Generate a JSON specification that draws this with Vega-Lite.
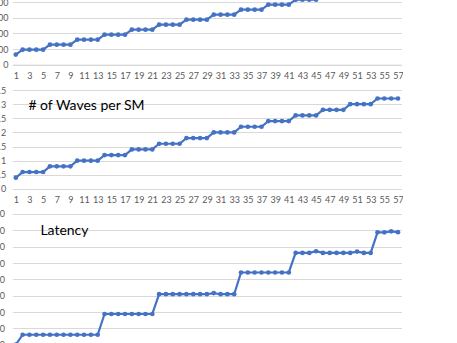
{
  "$schema": "https://vega.github.io/schema/vega-lite/v6.json",
  "padding": {"left": -8.6, "top": -33, "right": 0, "bottom": 0},
  "background": "white",
  "spacing": 5,
  "config": {
    "view": {"stroke": null},
    "font": "Lato",
    "axis": {
      "labelFont": "Lato",
      "labelFontSize": 9,
      "labelColor": "#595959",
      "ticks": false,
      "title": null,
      "gridColor": "#d9d9d9",
      "gridWidth": 1
    },
    "axisY": {"domain": false, "labelPadding": 4.5},
    "axisX": {"domainColor": "#d9d9d9", "domainWidth": 1, "grid": false, "labelPadding": 6.5, "labelBaseline": "top", "labelAngle": 0},
    "title": {"font": "Lato", "fontSize": 14, "fontWeight": "normal", "color": "#000000", "anchor": "start", "frame": "group", "orient": "top", "baseline": "alphabetic"},
    "line": {"color": "#4472c4", "strokeWidth": 2.2},
    "point": {"color": "#4472c4", "filled": true, "opacity": 1, "size": 22}
  },
  "data": {
    "values": [
      {"n": 1, "metric": 64, "waves": 0.4, "latency": 0},
      {"n": 2, "metric": 96, "waves": 0.6, "latency": 6.1},
      {"n": 3, "metric": 96, "waves": 0.6, "latency": 6.1},
      {"n": 4, "metric": 96, "waves": 0.6, "latency": 6.1},
      {"n": 5, "metric": 96, "waves": 0.6, "latency": 6.1},
      {"n": 6, "metric": 128, "waves": 0.8, "latency": 6.1},
      {"n": 7, "metric": 128, "waves": 0.8, "latency": 6.1},
      {"n": 8, "metric": 128, "waves": 0.8, "latency": 6.1},
      {"n": 9, "metric": 128, "waves": 0.8, "latency": 6.1},
      {"n": 10, "metric": 160, "waves": 1.0, "latency": 6.1},
      {"n": 11, "metric": 160, "waves": 1.0, "latency": 6.1},
      {"n": 12, "metric": 160, "waves": 1.0, "latency": 6.1},
      {"n": 13, "metric": 160, "waves": 1.0, "latency": 6.1},
      {"n": 14, "metric": 192, "waves": 1.2, "latency": 18.8},
      {"n": 15, "metric": 192, "waves": 1.2, "latency": 18.8},
      {"n": 16, "metric": 192, "waves": 1.2, "latency": 18.8},
      {"n": 17, "metric": 192, "waves": 1.2, "latency": 18.8},
      {"n": 18, "metric": 224, "waves": 1.4, "latency": 18.8},
      {"n": 19, "metric": 224, "waves": 1.4, "latency": 18.8},
      {"n": 20, "metric": 224, "waves": 1.4, "latency": 18.8},
      {"n": 21, "metric": 224, "waves": 1.4, "latency": 18.8},
      {"n": 22, "metric": 256, "waves": 1.6, "latency": 30.9},
      {"n": 23, "metric": 256, "waves": 1.6, "latency": 30.9},
      {"n": 24, "metric": 256, "waves": 1.6, "latency": 30.9},
      {"n": 25, "metric": 256, "waves": 1.6, "latency": 30.9},
      {"n": 26, "metric": 288, "waves": 1.8, "latency": 30.9},
      {"n": 27, "metric": 288, "waves": 1.8, "latency": 30.9},
      {"n": 28, "metric": 288, "waves": 1.8, "latency": 30.9},
      {"n": 29, "metric": 288, "waves": 1.8, "latency": 30.9},
      {"n": 30, "metric": 320, "waves": 2.0, "latency": 31.6},
      {"n": 31, "metric": 320, "waves": 2.0, "latency": 30.9},
      {"n": 32, "metric": 320, "waves": 2.0, "latency": 30.9},
      {"n": 33, "metric": 320, "waves": 2.0, "latency": 30.9},
      {"n": 34, "metric": 352, "waves": 2.2, "latency": 44.2},
      {"n": 35, "metric": 352, "waves": 2.2, "latency": 44.2},
      {"n": 36, "metric": 352, "waves": 2.2, "latency": 44.2},
      {"n": 37, "metric": 352, "waves": 2.2, "latency": 44.2},
      {"n": 38, "metric": 384, "waves": 2.4, "latency": 44.2},
      {"n": 39, "metric": 384, "waves": 2.4, "latency": 44.2},
      {"n": 40, "metric": 384, "waves": 2.4, "latency": 44.2},
      {"n": 41, "metric": 384, "waves": 2.4, "latency": 44.2},
      {"n": 42, "metric": 416, "waves": 2.6, "latency": 56.2},
      {"n": 43, "metric": 416, "waves": 2.6, "latency": 56.2},
      {"n": 44, "metric": 416, "waves": 2.6, "latency": 56.2},
      {"n": 45, "metric": 416, "waves": 2.6, "latency": 57.2},
      {"n": 46, "metric": 448, "waves": 2.8, "latency": 56.2},
      {"n": 47, "metric": 448, "waves": 2.8, "latency": 56.2},
      {"n": 48, "metric": 448, "waves": 2.8, "latency": 56.2},
      {"n": 49, "metric": 448, "waves": 2.8, "latency": 56.2},
      {"n": 50, "metric": 480, "waves": 3.0, "latency": 56.2},
      {"n": 51, "metric": 480, "waves": 3.0, "latency": 57.0},
      {"n": 52, "metric": 480, "waves": 3.0, "latency": 56.2},
      {"n": 53, "metric": 480, "waves": 3.0, "latency": 56.2},
      {"n": 54, "metric": 512, "waves": 3.2, "latency": 68.8},
      {"n": 55, "metric": 512, "waves": 3.2, "latency": 68.8},
      {"n": 56, "metric": 512, "waves": 3.2, "latency": 69.4},
      {"n": 57, "metric": 512, "waves": 3.2, "latency": 68.9}
    ]
  },
  "vconcat": [
    {
      "width": 389,
      "height": 93.6,
      "encoding": {
        "x": {"field": "n", "type": "quantitative", "scale": {"domain": [0.5, 57.5], "nice": false, "zero": false},
              "axis": {"values": [1,3,5,7,9,11,13,15,17,19,21,23,25,27,29,31,33,35,37,39,41,43,45,47,49,51,53,55,57]}},
        "y": {"field": "metric", "type": "quantitative", "scale": {"domain": [0, 600], "nice": false},
              "axis": {"values": [0,100,200,300,400,500,600]}}
      },
      "layer": [{"mark": "line"}, {"mark": "point"}]
    },
    {
      "width": 389,
      "height": 99,
      "title": {"text": "# of Waves per SM", "offset": -27, "dx": 16},
      "encoding": {
        "x": {"field": "n", "type": "quantitative", "scale": {"domain": [0.5, 57.5], "nice": false, "zero": false},
              "axis": {"values": [1,3,5,7,9,11,13,15,17,19,21,23,25,27,29,31,33,35,37,39,41,43,45,47,49,51,53,55,57]}},
        "y": {"field": "waves", "type": "quantitative", "scale": {"domain": [0, 3.5], "nice": false},
              "axis": {"values": [0,0.5,1,1.5,2,2.5,3,3.5], "format": "~g", "labelPadding": 6.8}}
      },
      "layer": [{"mark": "line"}, {"mark": "point"}]
    },
    {
      "width": 389,
      "height": 130.7,
      "title": {"text": "Latency", "offset": -28, "dx": 28},
      "encoding": {
        "x": {"field": "n", "type": "quantitative", "scale": {"domain": [0.5, 57.5], "nice": false, "zero": false},
              "axis": {"values": [1,3,5,7,9,11,13,15,17,19,21,23,25,27,29,31,33,35,37,39,41,43,45,47,49,51,53,55,57]}},
        "y": {"field": "latency", "type": "quantitative", "scale": {"domain": [0, 80], "nice": false},
              "axis": {"values": [0,10,20,30,40,50,60,70,80], "labelPadding": 8}}
      },
      "layer": [{"mark": "line"}, {"mark": "point"}]
    }
  ]
}
